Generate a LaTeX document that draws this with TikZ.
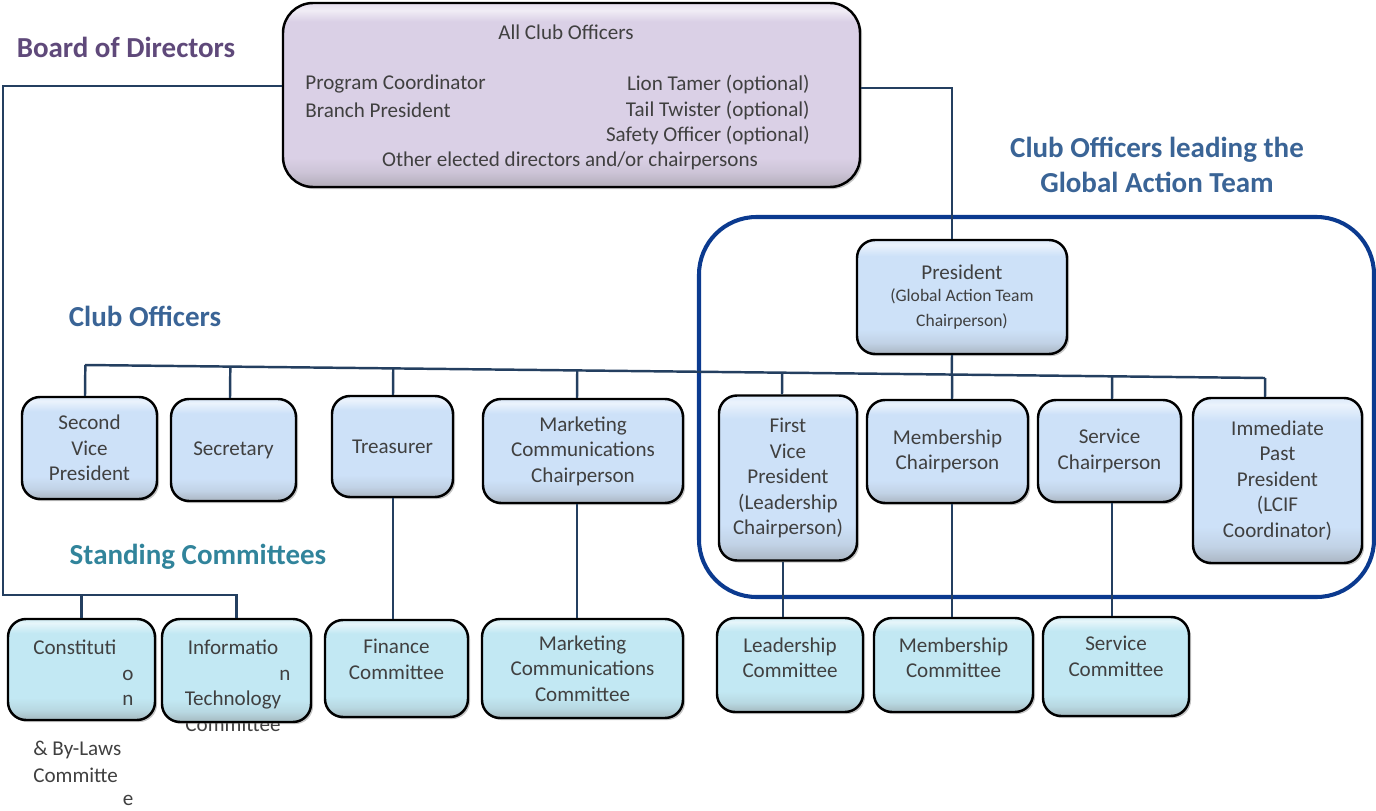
\documentclass[tikz,border=0pt]{standalone}
\usepackage{fontspec}
\setmainfont{Carlito}
\usetikzlibrary{calc,shadows}

\definecolor{boardpurple}{HTML}{5F497A}
\definecolor{officerblue}{HTML}{3A6496}
\definecolor{committeeteal}{HTML}{31849B}
\definecolor{linknavy}{HTML}{243F60}
\definecolor{gatblue}{HTML}{0B3A8F}
\definecolor{boxtext}{HTML}{404040}
\definecolor{officerfill}{HTML}{CDE1F8}
\definecolor{committeefill}{HTML}{C2E8F3}
\definecolor{boardfill}{HTML}{DAD0E6}

\pgfdeclareverticalshading{officershade}{100bp}{color(0bp)=(officerfill!55!gray); color(25bp)=(officerfill!55!gray);
    color(30bp)=(officerfill!85!gray); color(36bp)=(officerfill); color(68bp)=(officerfill);
    color(73bp)=(officerfill!40!white); color(75bp)=(officerfill!70!white); color(100bp)=(officerfill!70!white)}
\pgfdeclareverticalshading{committeeshade}{100bp}{color(0bp)=(committeefill!55!gray); color(25bp)=(committeefill!55!gray);
    color(30bp)=(committeefill!85!gray); color(36bp)=(committeefill); color(68bp)=(committeefill);
    color(73bp)=(committeefill!40!white); color(75bp)=(committeefill!70!white); color(100bp)=(committeefill!70!white)}
\pgfdeclareverticalshading{boardshade}{100bp}{color(0bp)=(boardfill!55!gray); color(25bp)=(boardfill!55!gray);
    color(29bp)=(boardfill!85!gray); color(33bp)=(boardfill); color(70bp)=(boardfill);
    color(73bp)=(boardfill!40!white); color(75bp)=(boardfill!70!white); color(100bp)=(boardfill!70!white)}

\tikzset{
        basebox/.style 2 args={draw=black, line width=1.4pt, rounded corners=0.36cm,
            minimum width=#1*0.02cm, minimum height=#2*0.02cm, inner sep=0pt,
            align=center, text=boxtext, font=\fontsize{12}{14.5}\selectfont,
            drop shadow={shadow xshift=1.2pt, shadow yshift=-1.2pt, opacity=0.45}},
        officer/.style 2 args={basebox={#1}{#2}, shading=officershade},
        committee/.style 2 args={basebox={#1}{#2}, shading=committeeshade},
        boardbox/.style 2 args={basebox={#1}{#2}, rounded corners=0.6cm, shading=boardshade},
        heading/.style={font=\fontsize{16.5}{20}\selectfont\bfseries, align=center, inner sep=0pt},
        plain/.style={text=boxtext, font=\fontsize{12}{14.5}\selectfont, inner sep=0pt},
        link/.style={draw=linknavy, line width=1.4pt},
        gatframe/.style={draw=gatblue, line width=2.3pt, rounded corners=1.15cm}
}

\begin{document}
\begin{tikzpicture}[x=0.02cm, y=-0.02cm]
        \useasboundingbox (0,0) rectangle (1376,811);

        % headings
        \node[heading, text=boardpurple] (bodtitle) at (126,47) {Board of Directors};
        \node[heading, text=officerblue] (cotitle) at (145,316) {Club Officers};
        \node[heading, text=officerblue] (gattitle) at (1157,165) {Club Officers leading the\\Global Action Team};
        \node[heading, text=committeeteal] (sctitle) at (198,557) {Standing Committees};

        % board of directors
        \node[boardbox={577}{184}] (board) at (571.5,95) {};
        \node[plain] (allclub) at (566,32) {All Club Officers};
        \node[plain, anchor=west] (progcoord) at (305,84) {Program Coordinator};
        \node[plain, anchor=west] (branchpres) at (305,110) {Branch President};
        \node[plain, anchor=east] (liontamer) at (810,84) {Lion Tamer (optional)};
        \node[plain, anchor=east] (tailtwister) at (810,110) {Tail Twister (optional)};
        \node[plain, anchor=east] (safety) at (810,135) {Safety Officer (optional)};
        \node[plain] (otherdir) at (570,161) {Other elected directors and/or chairpersons};

        % club officers
        \node[officer={210}{114}] (pres) at (962,297) {President\\[-2pt]\fontsize{10}{13}\selectfont (Global Action Team\\\fontsize{10}{13}\selectfont Chairperson)};
        \node[officer={135}{102}] (vp2) at (89.5,448) {Second\\Vice\\President};
        \node[officer={125}{102}] (sec) at (233.5,450) {Secretary};
        \node[officer={121}{101}] (treas) at (392.5,446.5) {Treasurer};
        \node[officer={200}{104}] (mktchair) at (583,451) {Marketing\\Communications\\Chairperson};
        \node[officer={138}{165}] (vp1) at (788,478) {First\\Vice\\President\\(Leadership\\Chairperson)};
        \node[officer={161}{103}] (memchair) at (947.5,451.5) {Membership\\Chairperson};
        \node[officer={143}{102}] (servchair) at (1109.5,451) {Service\\Chairperson};
        \node[officer={169}{165}] (ipp) at (1277.5,480.5) {Immediate\\Past\\President\\(LCIF\\Coordinator)};

        % standing committees
        \node[plain] (itclast) at (233,724) {Committee};
        \node[committee={147}{101}] (const) at (81.5,669.5) {};
        \node[committee={149}{103}] (itc) at (236.5,670.5) {};
        \node[committee={143}{97}] (fin) at (396.5,668.5) {Finance\\Committee\\[-4pt]};
        \node[committee={201}{99}] (mktcom) at (582.5,668.5) {Marketing\\Communications\\Committee};
        \node[committee={146}{94}] (leadcom) at (790,665) {Leadership\\Committee\\[-6pt]};
        \node[committee={159}{94}] (memcom) at (953.5,665) {Membership\\Committee\\[-6pt]};
        \node[committee={146}{99}] (servcom) at (1116,666.5) {Service\\Committee\\[-3pt]};

        \node[plain, anchor=west] (consta) at (33,647) {Constituti};
        \node[plain] (constb) at (128,675) {o};
        \node[plain] (constc) at (128,700) {n};
        \node[plain, anchor=west] (constd) at (33,750) {\& By-Laws};
        \node[plain, anchor=west] (conste) at (33,775) {Committe};
        \node[plain] (constf) at (128,800) {e};
        \node[plain] (itca) at (233,647) {Informatio};
        \node[plain] (itcb) at (285,675) {n};
        \node[plain] (itcc) at (233,700) {Technology};

        % global action team frame
        \draw[gatframe] (699,217) rectangle (1374,597);

        % connectors
        \coordinate (bodleft) at (3,86);
        \coordinate (stcleft) at (3,595);
        \coordinate (bodright) at (952,88);
        \coordinate (barl) at (85,365);
        \coordinate (barr) at (1265,378);

        \draw[link] (board.west |- bodleft) -- (bodleft) -- (stcleft) -| (itc.north);
        \draw[link] (const.north) -- (const.north |- stcleft);
        \draw[link] (board.east |- bodright) -- (bodright) -- (bodright |- pres.north);
        \draw[link] (barl) -- (barr);
        \draw[link] (bodright |- pres.south) -- ($(barl)!(bodright |- pres.south)!(barr)$);
        \foreach \n/\dx in {vp2/-4.5, sec/-3.5, treas/0.5, mktchair/-6, vp1/-6, memchair/4.5, servchair/2.5, ipp/-12.5}
            \draw[link] ([xshift=\dx*0.02cm]\n.north) -- ($(barl)!([xshift=\dx*0.02cm]\n.north)!(barr)$);
        \foreach \a/\b/\dx in {treas/fin/0.5, mktchair/mktcom/-6, vp1/leadcom/-5, memchair/memcom/4.5, servchair/servcom/2.5}
            \draw[link] ([xshift=\dx*0.02cm]\a.south) -- ([xshift=\dx*0.02cm]\a.south |- \b.north);
\end{tikzpicture}
\end{document}
